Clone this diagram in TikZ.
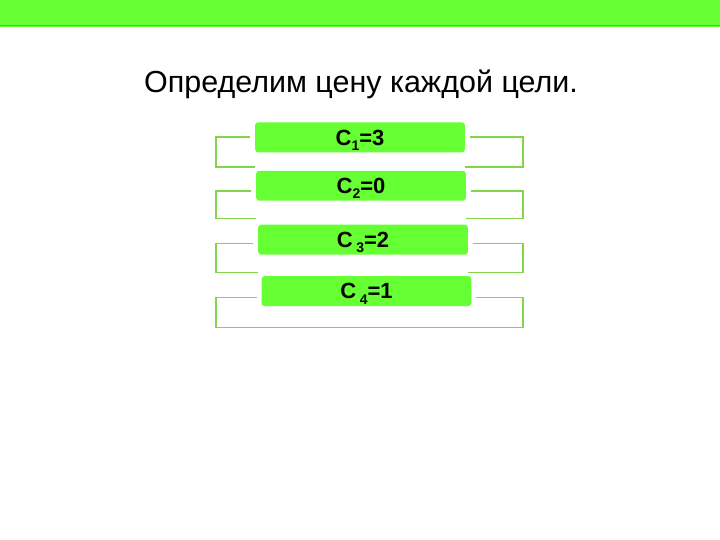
\documentclass[tikz,border=0pt]{standalone}
\usepackage{fontspec}
\setmainfont{Liberation Sans}
\usepackage{xcolor}
\usetikzlibrary{positioning}

\definecolor{topgreen}{RGB}{102,255,51}
\definecolor{boxgreen}{RGB}{102,255,51}
\definecolor{linegreen}{RGB}{130,212,72}
\newcommand{\lowidx}[1]{\raisebox{-0.45ex}{\fontsize{14pt}{14pt}\selectfont #1}}

\begin{document}
\begin{tikzpicture}[x=1pt,y=-1pt,
  goal/.style={fill=boxgreen,rounded corners=3pt,minimum width=210pt,minimum height=30pt,inner sep=0pt,text height=15.8pt,text depth=0pt,font=\fontsize{22pt}{24pt}\selectfont\bfseries},
  brk/.style={draw=linegreen,line width=1.6pt}]
\fill[white] (0,0) rectangle (720,540);
\fill[topgreen] (0,0) rectangle (720,27);
\draw[green!60!black!40!topgreen,line width=1pt] (0,25.5) -- (720,25.5);

\node[font=\fontsize{30.5pt}{34pt}\selectfont] (title) at (361,84) {Определим цену каждой цели.};

% brackets behind the goals
\foreach \i/\t/\b/\l/\r in {1/137/167/255/465, 2/191/219/256/466, 3/244/273/258/468, 4/298/328/262/471}{
  \draw[brk] (\l-5,\t) -- (216,\t) -- (216,\b) -- (\l,\b);
  \draw[brk] (\r+5,\t) -- (523,\t) -- (523,\b) -- (\r,\b);
}
\draw[brk] (262,328) -- (471,328);

\node[goal] (c1) at (360,137.5) {C\lowidx{1}=3};
\node[goal] (c2) at (361,186) {C\lowidx{2}=0};
\node[goal] (c3) at (363,240) {C\,\lowidx{3}=2};
\node[goal] (c4) at (366.5,291.5) {C\,\lowidx{4}=1};
\end{tikzpicture}
\end{document}
